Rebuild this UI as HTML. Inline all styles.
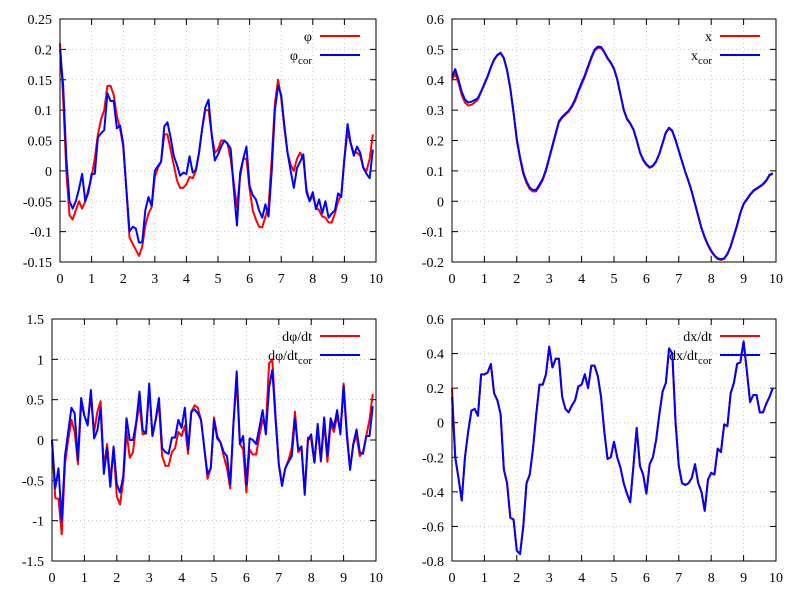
<!DOCTYPE html>
<html><head><meta charset="utf-8"><style>
body{margin:0;background:#fff;}
svg{display:block;font-family:"Liberation Serif",serif;font-size:14px;}
</style></head><body>
<svg id="c" width="800" height="600"></svg>
<script>
const tSeries = Array.from({length:100},(_,i)=>i/10);
const phiRed=[0.21,0.12,0.0,-0.073,-0.08,-0.065,-0.05,-0.062,-0.05,-0.03,-0.01,0.02,0.06,0.085,0.10,0.14,0.14,0.125,0.09,0.07,0.04,-0.03,-0.11,-0.12,-0.13,-0.14,-0.125,-0.09,-0.07,-0.06,-0.01,0.005,0.015,0.06,0.06,0.035,0.01,-0.015,-0.028,-0.028,-0.022,-0.01,-0.012,0.0,0.03,0.07,0.10,0.10,0.06,0.03,0.035,0.05,0.05,0.045,0.02,-0.02,-0.06,-0.01,0.02,0.02,-0.03,-0.065,-0.08,-0.092,-0.093,-0.075,-0.06,0.02,0.11,0.15,0.12,0.07,0.03,0.01,0.0,0.02,0.03,0.02,-0.03,-0.05,-0.04,-0.06,-0.065,-0.075,-0.077,-0.085,-0.085,-0.07,-0.05,-0.04,0.02,0.065,0.045,0.03,0.03,0.025,0.005,0.0,0.02,0.06];
const phiBlue=[0.2,0.14,0.02,-0.05,-0.062,-0.05,-0.03,-0.005,-0.05,-0.035,-0.005,-0.005,0.055,0.062,0.067,0.128,0.115,0.115,0.07,0.075,0.045,-0.03,-0.1,-0.092,-0.095,-0.118,-0.118,-0.065,-0.043,-0.058,0.0,0.008,0.015,0.073,0.08,0.055,0.025,0.01,-0.008,-0.003,-0.005,0.024,-0.003,0.002,0.03,0.07,0.105,0.117,0.06,0.017,0.027,0.04,0.05,0.045,0.037,-0.03,-0.09,-0.003,0.02,0.04,-0.025,-0.04,-0.047,-0.065,-0.077,-0.055,-0.075,0.0,0.1,0.14,0.125,0.075,0.03,0.0,-0.028,0.005,0.015,0.027,-0.035,-0.05,-0.035,-0.063,-0.047,-0.07,-0.05,-0.077,-0.07,-0.065,-0.037,-0.043,0.02,0.077,0.045,0.025,0.04,0.03,0.005,-0.005,-0.012,0.035];
const xRed=[0.40,0.42,0.39,0.35,0.325,0.315,0.318,0.325,0.335,0.36,0.385,0.41,0.44,0.465,0.48,0.487,0.47,0.43,0.37,0.29,0.2,0.14,0.09,0.06,0.04,0.032,0.033,0.05,0.07,0.1,0.14,0.18,0.22,0.26,0.275,0.285,0.295,0.31,0.33,0.36,0.385,0.41,0.44,0.47,0.495,0.505,0.505,0.49,0.47,0.455,0.435,0.40,0.35,0.30,0.27,0.255,0.235,0.2,0.16,0.135,0.12,0.11,0.115,0.13,0.155,0.19,0.225,0.24,0.23,0.2,0.165,0.13,0.095,0.065,0.03,-0.01,-0.05,-0.09,-0.12,-0.145,-0.165,-0.18,-0.19,-0.193,-0.19,-0.175,-0.15,-0.115,-0.08,-0.04,-0.01,0.005,0.02,0.033,0.04,0.047,0.055,0.067,0.085,0.09];
const xBlue=[0.41,0.435,0.40,0.36,0.335,0.325,0.328,0.333,0.34,0.362,0.387,0.412,0.442,0.467,0.482,0.489,0.472,0.432,0.372,0.292,0.205,0.145,0.095,0.065,0.045,0.037,0.038,0.055,0.074,0.104,0.144,0.184,0.224,0.263,0.278,0.288,0.298,0.314,0.335,0.364,0.39,0.415,0.445,0.474,0.499,0.509,0.508,0.492,0.472,0.457,0.437,0.402,0.352,0.302,0.272,0.257,0.237,0.202,0.162,0.137,0.122,0.112,0.117,0.132,0.157,0.192,0.227,0.242,0.232,0.202,0.167,0.132,0.097,0.067,0.032,-0.008,-0.048,-0.088,-0.118,-0.143,-0.163,-0.178,-0.188,-0.191,-0.188,-0.173,-0.148,-0.113,-0.078,-0.038,-0.008,0.007,0.022,0.035,0.042,0.049,0.057,0.069,0.087,0.092];
const dphiRed=[0,-0.72,-0.73,-1.17,-0.3,0.0,0.25,0.1,-0.3,0.45,0.3,0.2,0.55,0.1,0.35,0.48,-0.35,-0.05,-0.5,-0.1,-0.7,-0.8,-0.5,0.1,-0.22,-0.15,0.2,0.45,0.07,0.08,0.65,0.05,0.25,0.45,-0.2,-0.32,-0.32,-0.15,-0.1,0.1,0.05,0.18,-0.17,0.35,0.43,0.4,0.25,-0.1,-0.48,-0.35,0.28,0.05,-0.03,-0.2,-0.35,-0.6,0.2,0.75,-0.05,-0.12,-0.65,-0.12,-0.18,-0.18,0.05,0.25,0.15,0.95,1.0,0.3,-0.3,-0.55,-0.35,-0.25,-0.1,0.35,-0.15,-0.1,-0.65,0.03,0.0,-0.28,0.15,-0.27,0.22,-0.27,0.2,0.1,0.3,0.1,0.7,0.1,-0.35,-0.05,0.05,-0.2,-0.15,0.05,0.25,0.57];
const dphiBlue=[0,-0.6,-0.35,-1.0,-0.2,0.1,0.4,0.33,-0.25,0.52,0.3,0.18,0.62,0.02,0.12,0.4,-0.42,-0.1,-0.58,-0.08,-0.55,-0.65,-0.45,0.27,0.0,0.0,0.22,0.6,0.12,0.08,0.7,0.05,0.25,0.52,-0.1,-0.15,-0.17,0.03,0.03,0.25,0.15,0.4,-0.12,0.35,0.38,0.33,0.25,-0.1,-0.42,-0.35,0.25,0.02,-0.03,-0.15,-0.2,-0.55,0.2,0.85,-0.05,0.05,-0.55,0.02,0.0,-0.05,0.15,0.37,0.07,0.65,0.87,0.25,-0.3,-0.57,-0.35,-0.27,-0.2,0.27,-0.12,-0.08,-0.68,0.0,0.07,-0.28,0.2,-0.25,0.28,-0.2,0.27,0.15,0.37,0.07,0.67,0.05,-0.37,-0.05,0.13,-0.15,-0.17,0.05,0.05,0.42];
const dxRed=[0.2,-0.2,-0.32,-0.45,-0.2,-0.05,0.07,0.08,0.04,0.28,0.28,0.29,0.34,0.17,0.13,0.05,-0.27,-0.35,-0.55,-0.56,-0.74,-0.76,-0.6,-0.35,-0.3,-0.15,0.05,0.22,0.22,0.28,0.44,0.32,0.37,0.37,0.15,0.08,0.06,0.1,0.13,0.21,0.22,0.28,0.2,0.33,0.33,0.27,0.15,-0.05,-0.21,-0.2,-0.11,-0.2,-0.26,-0.35,-0.41,-0.46,-0.25,-0.03,-0.25,-0.3,-0.41,-0.24,-0.2,-0.1,0.05,0.18,0.23,0.43,0.4,0.0,-0.25,-0.35,-0.36,-0.35,-0.32,-0.24,-0.35,-0.4,-0.51,-0.33,-0.29,-0.3,-0.15,-0.17,-0.01,-0.02,0.17,0.23,0.34,0.35,0.47,0.3,0.12,0.16,0.16,0.06,0.06,0.11,0.15,0.2];
const dxBlue=[0.15,-0.2,-0.32,-0.45,-0.2,-0.05,0.07,0.08,0.04,0.28,0.28,0.29,0.34,0.17,0.13,0.05,-0.27,-0.35,-0.55,-0.56,-0.74,-0.76,-0.6,-0.35,-0.3,-0.15,0.05,0.22,0.22,0.28,0.44,0.32,0.37,0.37,0.15,0.08,0.06,0.1,0.13,0.21,0.22,0.28,0.2,0.33,0.33,0.27,0.15,-0.05,-0.21,-0.2,-0.11,-0.2,-0.26,-0.35,-0.41,-0.46,-0.25,-0.03,-0.25,-0.3,-0.41,-0.24,-0.2,-0.1,0.05,0.18,0.23,0.43,0.4,0.0,-0.25,-0.35,-0.36,-0.35,-0.32,-0.24,-0.35,-0.4,-0.51,-0.33,-0.29,-0.3,-0.15,-0.17,-0.01,-0.02,0.17,0.23,0.34,0.35,0.47,0.3,0.12,0.16,0.16,0.06,0.06,0.11,0.15,0.2];
const xTicks=[0,1,2,3,4,5,6,7,8,9,10];
const yTicksPhi=[-0.15,-0.1,-0.05,0,0.05,0.1,0.15,0.2,0.25];
const yTicksX=[-0.2,-0.1,0,0.1,0.2,0.3,0.4,0.5,0.6];
const yTicksDphi=[-1.5,-1,-0.5,0,0.5,1,1.5];
const yTicksDx=[-0.8,-0.6,-0.4,-0.2,0,0.2,0.4,0.6];

const NS='http://www.w3.org/2000/svg';
const svg=document.getElementById('c');
function mk(tag,attrs,parent){const e=document.createElementNS(NS,tag);for(const k in attrs)e.setAttribute(k,attrs[k]);(parent||svg).appendChild(e);return e;}

function panel(name,L,R,T,B,ymin,ymax,yTicks,red,blue,leg1,leg2,legX,legY){
  const g=mk('g',{});
  
  
  const sx=v=>L+(v-0)/(10-0)*(R-L);
  const sy=v=>B-(v-ymin)/(ymax-ymin)*(B-T);
  xTicks.forEach(v=>{
    const x=sx(v);
    if(v>0&&v<10){const gl=mk('line',{x1:x,x2:x,y1:T,y2:B,stroke:'#c8c8c8','stroke-dasharray':'1,3'},g);}
    mk('line',{x1:x,x2:x,y1:B,y2:B-6,stroke:'#000'},g);
    mk('line',{x1:x,x2:x,y1:T,y2:T+6,stroke:'#000'},g);
    const t=mk('text',{x:x,y:B+21,'text-anchor':'middle'},g);t.textContent=v;
    
  });
  yTicks.forEach(v=>{
    const y=sy(v);
    if(v>ymin&&v<ymax){const gl=mk('line',{x1:L,x2:R,y1:y,y2:y,stroke:'#c8c8c8','stroke-dasharray':'1,3'},g);}
    mk('line',{x1:L,x2:L+6,y1:y,y2:y,stroke:'#000'},g);
    mk('line',{x1:R,x2:R-6,y1:y,y2:y,stroke:'#000'},g);
    const t=mk('text',{x:L-8,y:y+5,'text-anchor':'end'},g);t.textContent=v;
    
  });
  const ptsR=red.map((v,i)=>sx(tSeries[i]||i/10)+','+sy(v)).join(' ');
  const pr=mk('polyline',{points:ptsR,fill:'none',stroke:'#ff0000','stroke-width':2,'stroke-linejoin':'round'},g);
  
  const ptsB=blue.map((v,i)=>sx(i/10)+','+sy(v)).join(' ');
  const pb=mk('polyline',{points:ptsB,fill:'none',stroke:'#0000ff','stroke-width':2,'stroke-linejoin':'round'},g);
  
  const fr=mk('rect',{x:L,y:T,width:R-L,height:B-T,fill:'none',stroke:'#000'},g);
  
  // legend
  const l1=mk('text',{x:legX,y:legY+5,'text-anchor':'end'},g);l1.innerHTML=leg1;
  
  const ll1=mk('line',{x1:legX+8,x2:legX+48,y1:legY,y2:legY,stroke:'#ff0000','stroke-width':2},g);
  
  const l2=mk('text',{x:legX,y:legY+24,'text-anchor':'end'},g);l2.innerHTML=leg2;
  
  const ll2=mk('line',{x1:legX+8,x2:legX+48,y1:legY+19,y2:legY+19,stroke:'#0000ff','stroke-width':2},g);
  
}
const sub='<tspan dy="4" font-size="11">cor</tspan>';
panel('phi-panel',60,376,19,262,-0.15,0.25,yTicksPhi,phiRed,phiBlue,'φ','φ'+sub,312,36);
panel('x-panel',452,776,19,262,-0.2,0.6,yTicksX,xRed,xBlue,'x','x'+sub,712,36);
panel('dphi-panel',52,376,319,561,-1.5,1.5,yTicksDphi,dphiRed,dphiBlue,'dφ/dt','dφ/dt'+sub,312,336);
panel('dx-panel',452,776,319,561,-0.8,0.6,yTicksDx,dxRed,dxBlue,'dx/dt','dx/dt'+sub,712,336);
</script>
</body></html>
